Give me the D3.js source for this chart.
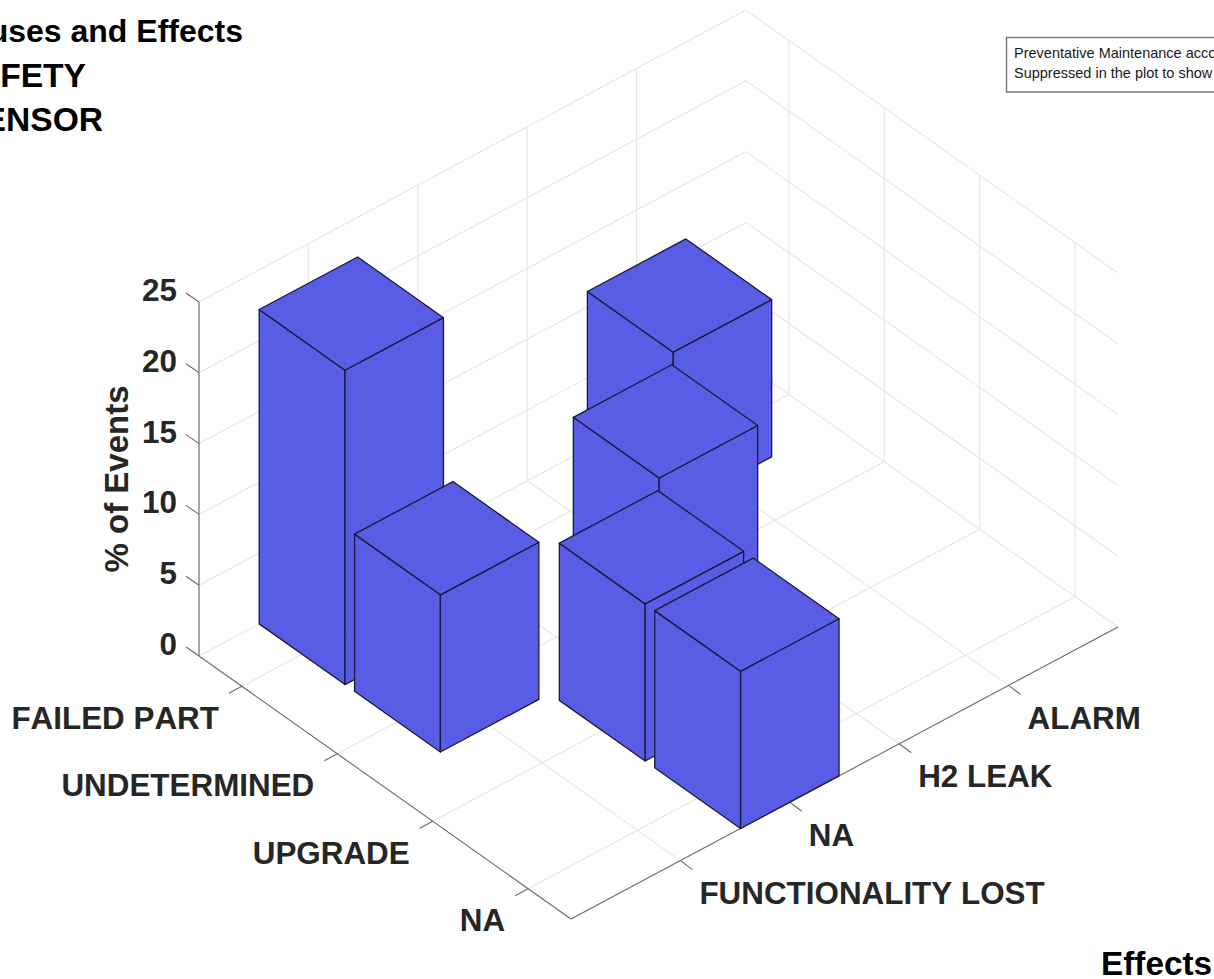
<!DOCTYPE html>
<html><head><meta charset="utf-8">
<style>
html,body{margin:0;padding:0;background:#fff;overflow:hidden}
text{font-family:"Liberation Sans",Arial,sans-serif;font-kerning:none}
</style>
<script src="https://cdn.jsdelivr.net/npm/d3@7"></script>
</head><body>
<svg id="c" width="1214" height="979"></svg>
<script>
const causes = ["FAILED PART","UNDETERMINED","UPGRADE","NA"];
const effects = ["FUNCTIONALITY LOST","NA","H2 LEAK","ALARM"];
const zTicks = [0,5,10,15,20,25];
const barCause  = [1,2,3,4,2,1];
const barEffect = [1,1,2,2,3,4];
const barPct    = [22.2,11.1,11.1,11.1,11.1,11.1];
const titleLines = ["Causes and Effects","SAFETY","SENSOR"];
const noteLines = ["Preventative Maintenance accounts","Suppressed in the plot to show"];

const svg = d3.select("#c");
const cX = d3.scaleLinear([0.55,4.45],[0,372]), cY = d3.scaleLinear([0.55,4.45],[0,263]);
const eX = d3.scaleLinear([0,5],[0,547]),       eY = d3.scaleLinear([0,5],[0,-292]);
const zY = d3.scaleLinear([0,25],[0,-354]);
const ox = 199, oy = 656;
const P = (c,e,z=0)=>[ox+cX(c)+eX(e), oy+cY(c)+eY(e)+zY(z)];
const cMin=.55,cMax=4.45,eMin=0,eMax=5,zMax=25;
const cTicks = causes.map((_,i)=>i+1), eTicks = effects.map((_,i)=>i+1);
const line = d3.line();
const seg = (g,a,b,col,w)=>g.append("path").attr("d",line([a,b])).attr("fill","none").attr("stroke",col).attr("stroke-width",w);

// grid
const grid = svg.append("g"), gc="#e6e6e6";
cTicks.forEach(c=>{seg(grid,P(c,eMin),P(c,eMax),gc,1.1);seg(grid,P(c,eMax),P(c,eMax,zMax),gc,1.1);});
eTicks.forEach(e=>{seg(grid,P(cMin,e),P(cMax,e),gc,1.1);seg(grid,P(cMin,e),P(cMin,e,zMax),gc,1.1);});
zTicks.forEach(z=>{seg(grid,P(cMin,eMin,z),P(cMin,eMax,z),gc,1.1);seg(grid,P(cMin,eMax,z),P(cMax,eMax,z),gc,1.1);});

// axes
const axis = svg.append("g"), ac="#6a6a6a";
seg(axis,P(cMin,eMin),P(cMin,eMin,zMax),"#808080",1.4);
seg(axis,P(cMin,eMin),P(cMax,eMin),ac,1.1);
seg(axis,P(cMax,eMin),P(cMax,eMax),ac,1.1);
const lab = svg.append("g").attr("fill","#262626").attr("font-weight","bold").attr("font-size",31.4);
zTicks.forEach(z=>{
  const p=P(cMin,eMin,z); seg(axis,p,[p[0]-13,p[1]-9],ac,1.1);
  lab.append("text").attr("x",p[0]-22).attr("y",p[1]-1).attr("text-anchor","end").text(z);
});
cTicks.forEach((c,i)=>{
  const p=P(c,eMin); seg(axis,p,[p[0]-13,p[1]+7],ac,1.1);
  lab.append("text").attr("x",p[0]-23).attr("y",p[1]+42.5).attr("text-anchor","end").text(causes[i]);
});
eTicks.forEach((e,i)=>{
  const p=P(cMax,e); seg(axis,p,[p[0]+12,p[1]+9],ac,1.1);
  lab.append("text").attr("x",p[0]+19).attr("y",p[1]+43.5).text(effects[i]);
});

// bars
const hw=0.45;
const bars = barCause.map((c,i)=>({c,e:barEffect[i],v:barPct[i]}))
  .sort((a,b)=>P(a.c,a.e)[1]-P(b.c,b.e)[1]);
const barG = svg.append("g").selectAll("g").data(bars).join("g");
const faces = d=>{
  const {c,e,v}=d, c0=c-hw,c1=c+hw,e0=e-hw,e1=e+hw;
  return [
    [P(c0,e0),P(c1,e0),P(c1,e0,v),P(c0,e0,v)],
    [P(c1,e0),P(c1,e1),P(c1,e1,v),P(c1,e0,v)],
    [P(c0,e0,v),P(c1,e0,v),P(c1,e1,v),P(c0,e1,v)]
  ];
};
barG.selectAll("path").data(faces).join("path")
  .attr("d",f=>line(f)+"Z").attr("fill","#595ce4").attr("stroke","#1a1a38").attr("stroke-width",1.3).attr("stroke-linejoin","round");

// titles
const tY=[41.5,87,131], tS=[32,33.6,33.6], tR=[243,86,103];
titleLines.forEach((t,i)=>{
  svg.append("text").attr("x",tR[i]).attr("y",tY[i]).attr("text-anchor","end")
    .attr("font-size",tS[i]).attr("font-weight","bold").attr("fill","#000").text(t);
});
svg.append("text").attr("transform","translate(127.5,479) rotate(-90)").attr("text-anchor","middle")
  .attr("font-size",33).attr("font-weight","bold").attr("fill","#262626").text("% of Events");
svg.append("text").attr("x",1101).attr("y",975).attr("font-size",33.3).attr("font-weight","bold").attr("fill","#000").text("Effects");

// note
svg.append("rect").attr("x",1006.5).attr("y",37.5).attr("width",300).attr("height",54.5).attr("fill","#fff").attr("stroke","#7a7a7a").attr("stroke-width",1.5);
noteLines.forEach((t,i)=>svg.append("text").attr("x",1014).attr("y",58+i*20).attr("font-size",14.5).attr("fill","#1a1a1a").text(t));
</script>
</body></html>
